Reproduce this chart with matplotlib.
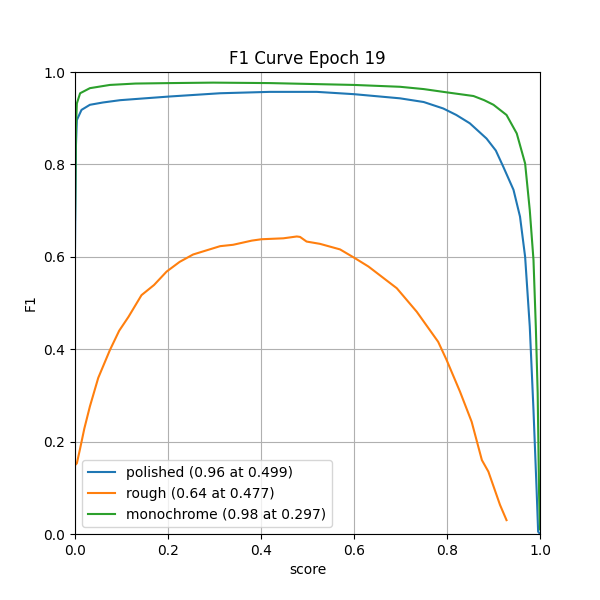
import matplotlib
matplotlib.use("Agg")
import matplotlib.pyplot as plt

# score / F1 points
polished_x = [0.0, 0.002, 0.004, 0.014, 0.032, 0.06, 0.097, 0.15, 0.204, 0.312, 0.419, 0.52, 0.6,
              0.699, 0.75, 0.792, 0.82, 0.849, 0.885, 0.905, 0.921, 0.943, 0.957, 0.968, 0.978,
              0.986, 0.993, 0.996, 1.0]
polished_y = [0.62, 0.84, 0.896, 0.918, 0.929, 0.934, 0.939, 0.943, 0.947, 0.954, 0.957, 0.957,
              0.952, 0.943, 0.935, 0.921, 0.907, 0.889, 0.856, 0.83, 0.795, 0.745, 0.687, 0.600,
              0.449, 0.268, 0.088, 0.005, 0.0]

rough_x = [0.0, 0.004, 0.011, 0.02, 0.032, 0.05, 0.075, 0.095, 0.115, 0.143, 0.17, 0.197, 0.225,
           0.254, 0.312, 0.340, 0.380, 0.401, 0.448, 0.477, 0.484, 0.498, 0.527, 0.570, 0.602,
           0.631, 0.692, 0.735, 0.781, 0.799, 0.828, 0.853, 0.875, 0.889, 0.914, 0.928]
rough_y = [0.149, 0.153, 0.185, 0.228, 0.276, 0.338, 0.398, 0.44, 0.470, 0.517, 0.539, 0.568,
           0.589, 0.605, 0.623, 0.626, 0.635, 0.638, 0.640, 0.644, 0.643, 0.633, 0.628, 0.616,
           0.597, 0.579, 0.532, 0.481, 0.416, 0.377, 0.308, 0.243, 0.160, 0.135, 0.063, 0.030]

mono_x = [0.0, 0.002, 0.004, 0.011, 0.032, 0.075, 0.13, 0.204, 0.297, 0.419, 0.6, 0.699, 0.75,
          0.799, 0.857, 0.88, 0.900, 0.928, 0.950, 0.968, 0.978, 0.986, 0.991, 0.995, 0.998, 1.0]
mono_y = [0.68, 0.88, 0.932, 0.954, 0.965, 0.972, 0.975, 0.976, 0.977, 0.976, 0.972, 0.968,
          0.963, 0.956, 0.948, 0.939, 0.929, 0.907, 0.867, 0.802, 0.701, 0.593, 0.449, 0.305,
          0.088, 0.01]

labels = ["polished (0.96 at 0.499)", "rough (0.64 at 0.477)", "monochrome (0.98 at 0.297)"]

fig, ax = plt.subplots(figsize=(6, 6), dpi=100)
ax.plot(polished_x, polished_y, label=labels[0])
ax.plot(rough_x, rough_y, label=labels[1])
ax.plot(mono_x, mono_y, label=labels[2])
ax.set_xlim(0, 1)
ax.set_ylim(0, 1)
ax.set_xlabel("score")
ax.set_ylabel("F1")
ax.set_title("F1 Curve Epoch 19")
ax.grid(True)
ax.legend(loc="lower left")
fig.savefig("out.png")
